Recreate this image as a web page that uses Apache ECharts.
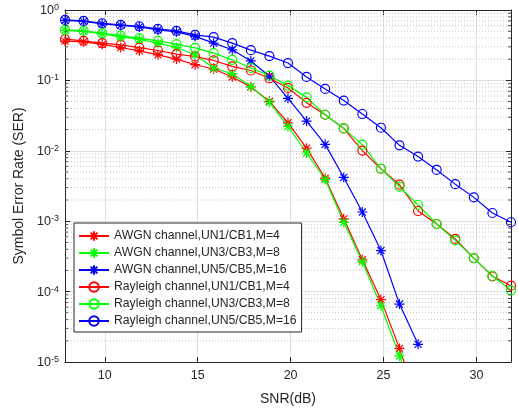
<!DOCTYPE html>
<html><head><meta charset="utf-8">
<script src="https://cdn.jsdelivr.net/npm/echarts@6/dist/echarts.min.js"></script>
<style>html,body{margin:0;padding:0;background:#fff}#c{width:518px;height:411px}</style>
</head><body><div id="c"></div>
<script>
// ---- data ----
const snr = [7.86,8.86,9.86,10.86,11.86,12.86,13.86,14.86,15.86,16.86,17.86,18.86,19.86,20.86,21.86,22.86,23.86,24.86,25.86,26.86,27.86,28.86,29.86,30.86,31.86];
const seriesNames = ['AWGN channel,UN1/CB1,M=4','AWGN channel,UN3/CB3,M=8','AWGN channel,UN5/CB5,M=16','Rayleigh channel,UN1/CB1,M=4','Rayleigh channel,UN3/CB3,M=8','Rayleigh channel,UN5/CB5,M=16'];
const awgnM4  = [0.361,0.353,0.325,0.293,0.263,0.231,0.201,0.167,0.145,0.112,0.0808,0.0505,0.025,0.0109,0.00408,0.00108,2.83e-4,7.7e-5,1.56e-5,2.5e-6];
const awgnM8  = [0.513,0.497,0.458,0.415,0.383,0.338,0.293,0.231,0.150,0.1245,0.0816,0.0489,0.0222,0.0093,0.00391,0.000965,2.65e-4,6.3e-5,1.22e-5,2e-6];
const awgnM16 = [0.711,0.688,0.634,0.604,0.575,0.521,0.489,0.422,0.338,0.272,0.189,0.1148,0.0556,0.0264,0.01235,0.00418,0.00135,3.83e-4,6.65e-5,1.78e-5];
const rayM4   = [0.385,0.365,0.338,0.320,0.293,0.266,0.2365,0.2186,0.192,0.158,0.1382,0.1072,0.0782,0.048,0.0325,0.0208,0.01006,0.00556,0.0033,0.001395,0.000913,0.00056,0.000299,0.000165,0.0001214];
const rayM8   = [0.521,0.505,0.468,0.433,0.398,0.365,0.327,0.290,0.244,0.196,0.150,0.1167,0.0843,0.0574,0.0325,0.0208,0.01223,0.00556,0.0031,0.0017,0.000913,0.000534,0.000299,0.0001665,0.0001042];
const rayM16  = [0.722,0.699,0.648,0.614,0.588,0.539,0.505,0.443,0.411,0.338,0.269,0.2215,0.1764,0.1119,0.0757,0.0517,0.0333,0.02127,0.01195,0.00828,0.00535,0.00336,0.00218,0.001307,0.000966];
const xTickLabels = [10,15,20,25,30];
const yMinorGrid = [2e-5,3e-5,4e-5,5e-5,6e-5,7e-5,8e-5,9e-5,2e-4,3e-4,4e-4,5e-4,6e-4,7e-4,8e-4,9e-4,2e-3,3e-3,4e-3,5e-3,6e-3,7e-3,8e-3,9e-3,2e-2,3e-2,4e-2,5e-2,6e-2,7e-2,8e-2,9e-2,0.2,0.3,0.4,0.5,0.6,0.7,0.8,0.9];

// ---- styling ----
const FONT = 'Liberation Sans, Arial, sans-serif';
const AX = '#262626';
const STAR = 'path://M0,-10L0,10M-10,0L10,0M-7.07,-7.07L7.07,7.07M-7.07,7.07L7.07,-7.07';
const CIRCLE = 'path://M10,0A10,10,0,1,1,-10,0A10,10,0,1,1,10,0Z';
const pairs = ys => ys.map((v,i)=>[snr[i], v]);
function mk(name, ys, color, symbol, size){
  return {name, type:'line', data:pairs(ys), symbol, symbolSize:size, showAllSymbol:true,
    lineStyle:{color, width:1.2}, itemStyle:{color:'rgba(0,0,0,0)', borderColor:color, borderWidth:1.2},
    emphasis:{disabled:true}, clip:true, z:3, animation:false};
}
const xMin = snr[0], xMax = snr[snr.length-1];
const minorSeries = yMinorGrid.map(v=>({type:'line', data:[[xMin,v],[xMax,v]], symbol:'none', silent:true,
  z:1, animation:false, emphasis:{disabled:true}, lineStyle:{type:[1,2], color:'#c6c6c6', width:1}}));
const minorTicks = [
  {type:'scatter', data:yMinorGrid.map(v=>[xMin,v]), symbol:'rect', symbolSize:[3,1], symbolOffset:[1.5,0],
   itemStyle:{color:AX}, silent:true, z:4, animation:false, emphasis:{disabled:true}},
  {type:'scatter', data:yMinorGrid.map(v=>[xMax,v]), symbol:'rect', symbolSize:[3,1], symbolOffset:[-1.5,0],
   itemStyle:{color:AX}, silent:true, z:4, animation:false, emphasis:{disabled:true}}
];
const chart = echarts.init(document.getElementById('c'), null, {renderer:'canvas'});
chart.setOption({
  animation:false,
  backgroundColor:'#fff',
  textStyle:{fontFamily:FONT},
  grid:{left:65, top:10, right:7, bottom:47},
  legend:{orient:'vertical', left:74, top:223, itemWidth:30, itemHeight:12, itemGap:5,
    padding:[7,5,5,4], borderColor:AX, borderWidth:1, backgroundColor:'#fff', borderRadius:0,
    textStyle:{fontSize:12.2, color:AX, fontFamily:FONT}, data:seriesNames, z:10},
  xAxis:[{type:'value', min:xMin, max:xMax, splitNumber:5,
    axisLine:{show:true, onZero:false, lineStyle:{color:AX, width:1}},
    axisTick:{show:true, inside:true, length:5, lineStyle:{color:AX}},
    axisLabel:{formatter:v=> xTickLabels.includes(v)? String(v):'', showMinLabel:false, showMaxLabel:false, margin:7, fontSize:12.5, color:AX, fontFamily:FONT},
    splitLine:{show:true, lineStyle:{color:'#dfdfdf', width:1}},
    name:'SNR(dB)', nameLocation:'middle', nameGap:30, nameTextStyle:{fontSize:14, color:AX, fontFamily:FONT}},
   {type:'value', position:'top', min:xMin, max:xMax, splitNumber:5,
    axisLine:{show:true, onZero:false, lineStyle:{color:AX, width:1}},
    axisTick:{show:true, inside:true, length:5, lineStyle:{color:AX}},
    axisLabel:{show:false}, splitLine:{show:false}}],
  yAxis:[{type:'log', logBase:10, min:1e-5, max:1,
    axisLine:{show:true, onZero:false, lineStyle:{color:AX, width:1}},
    axisTick:{show:true, inside:true, length:5, lineStyle:{color:AX}},
    axisLabel:{margin:6, formatter:v=>'{b|10}{s|'+Math.round(Math.log10(v))+'}',
      rich:{b:{fontSize:12.5, color:AX, fontFamily:FONT, lineHeight:14, verticalAlign:'bottom'},
            s:{fontSize:9, color:AX, fontFamily:FONT, lineHeight:10, padding:[0,0,6,0], verticalAlign:'top'}}},
    splitLine:{show:true, lineStyle:{color:'#dfdfdf', width:1}},
    name:'Symbol Error Rate (SER)', nameLocation:'middle', nameGap:33, nameTextStyle:{fontSize:14, color:AX, fontFamily:FONT}},
   {type:'log', logBase:10, position:'right', min:1e-5, max:1,
    axisLine:{show:true, onZero:false, lineStyle:{color:AX, width:1}},
    axisTick:{show:true, inside:true, length:5, lineStyle:{color:AX}},
    axisLabel:{show:false}, splitLine:{show:false}}],
  series:[
    ...minorSeries,
    ...minorTicks,
    mk(seriesNames[0], awgnM4, '#ff0000', STAR, 10),
    mk(seriesNames[1], awgnM8, '#00ff00', STAR, 10),
    mk(seriesNames[2], awgnM16, '#0000ff', STAR, 10),
    mk(seriesNames[3], rayM4, '#ff0000', CIRCLE, 9),
    mk(seriesNames[4], rayM8, '#00ff00', CIRCLE, 9),
    mk(seriesNames[5], rayM16, '#0000ff', CIRCLE, 9)
  ]
});
</script></body></html>
